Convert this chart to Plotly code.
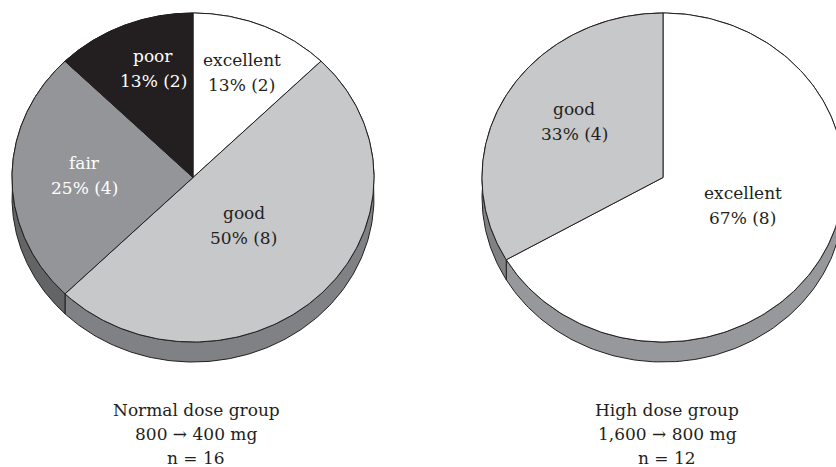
import numpy as np
import plotly.graph_objects as go

# Ratings per dose group (counts of patients), clockwise from 12 o'clock
normal_labels = ["excellent", "good", "fair", "poor"]
normal_counts = [2, 8, 4, 2]
high_labels = ["excellent", "good"]
high_counts = [8, 4]

captions = [
    ["Normal dose group", "800 \u2192 400 mg", "n = 16"],
    ["High dose group", "1,600 \u2192 800 mg", "n = 12"],
]

# Styling
INK = "#231f20"
TOP_COLORS = {"excellent": "#ffffff", "good": "#c7c8ca", "fair": "#939598", "poor": "#231f20"}
SIDE_COLORS = {"excellent": "#97989b", "good": "#808184", "fair": "#636466", "poor": "#231f20"}
TEXT_COLORS = {"excellent": INK, "good": INK, "fair": "#ffffff", "poor": "#ffffff"}
FONT = "DejaVu Serif"
FS = 17

W, H = 836, 467
RX, RY, DEPTH = 181, 164.5, 20
pies = [
    dict(cx=193, cy=177.5, labels=normal_labels, counts=normal_counts,
         text_off=[(0.27, -0.64), (0.28, 0.29), (-0.60, -0.01), (-0.22, -0.66)],
         cap_x=196),
    dict(cx=663, cy=177.5, labels=high_labels, counts=high_counts,
         text_off=[(0.44, 0.17), (-0.49, -0.34)],
         cap_x=667),
]

fig = go.Figure()


def arc(cx, cy, t0, t1, dy=0.0, n=200):
    t = np.linspace(t0, t1, n)
    return cx + RX * np.sin(t), cy + dy - RY * np.cos(t)


annotations = []
for pie in pies:
    cx, cy = pie["cx"], pie["cy"]
    counts = np.array(pie["counts"], dtype=float)
    total = counts.sum()
    edges = np.concatenate([[0.0], np.cumsum(counts)]) / total * 2 * np.pi

    # side walls (extruded rim) first
    for i, lab in enumerate(pie["labels"]):
        t0, t1 = edges[i], edges[i + 1]
        xt, yt = arc(cx, cy, t0, t1)
        xb, yb = arc(cx, cy, t0, t1, dy=DEPTH)
        xs = np.concatenate([xt, xb[::-1], xt[:1]])
        ys = np.concatenate([yt, yb[::-1], yt[:1]])
        fig.add_trace(go.Scatter(x=xs, y=ys, mode="lines", fill="toself",
                                 fillcolor=SIDE_COLORS[lab],
                                 line=dict(color=INK, width=1),
                                 hoverinfo="skip", showlegend=False))

    # top faces
    for i, lab in enumerate(pie["labels"]):
        t0, t1 = edges[i], edges[i + 1]
        xa, ya = arc(cx, cy, t0, t1)
        xs = np.concatenate([[cx], xa, [cx]])
        ys = np.concatenate([[cy], ya, [cy]])
        fig.add_trace(go.Scatter(x=xs, y=ys, mode="lines", fill="toself",
                                 fillcolor=TOP_COLORS[lab],
                                 line=dict(color=INK, width=1),
                                 name=lab, hoverinfo="name", showlegend=False))

    # slice labels
    for i, lab in enumerate(pie["labels"]):
        v = pie["counts"][i]
        pct = int(100 * v / total + 0.5)
        ox, oy = pie["text_off"][i]
        lx, ly = cx + ox * RX, cy + oy * RY
        for txt, dy in ((lab, -12.5), (f"{pct}% ({v})", 12.5)):
            annotations.append(dict(x=lx, y=ly + dy, text=txt, showarrow=False,
                                    xanchor="center", yanchor="middle",
                                    font=dict(family=FONT, size=FS, color=TEXT_COLORS[lab])))

for pie, lines in zip(pies, captions):
    for j, txt in enumerate(lines):
        annotations.append(dict(x=pie["cap_x"], y=410 + 24 * j, text=txt, showarrow=False,
                                xanchor="center", yanchor="middle",
                                font=dict(family=FONT, size=FS, color=INK)))

fig.update_layout(
    width=W, height=H,
    margin=dict(l=0, r=0, t=0, b=0),
    paper_bgcolor="white", plot_bgcolor="white",
    xaxis=dict(range=[0, W], visible=False, fixedrange=True),
    yaxis=dict(range=[H, 0], visible=False, fixedrange=True),
    annotations=annotations,
)

fig.write_html("out.html")
